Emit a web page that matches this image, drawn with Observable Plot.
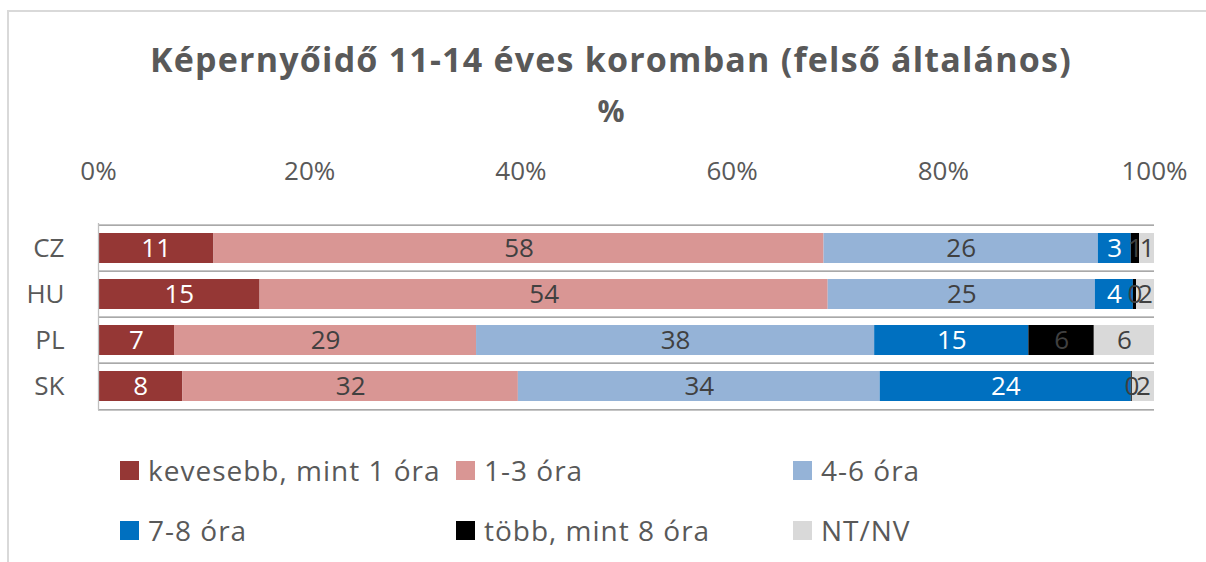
<!DOCTYPE html>
<html>
<head>
<meta charset="utf-8">
<script src="https://cdn.jsdelivr.net/npm/d3@7"></script>
<script src="https://cdn.jsdelivr.net/npm/@observablehq/plot@0.6"></script>
<style>
  html, body { margin: 0; padding: 0; background: #fff; }
  body { width: 1206px; height: 562px; position: relative; overflow: hidden; font-family: "Open Sans", sans-serif; }
  #frame { position: absolute; left: 7px; top: 10px; width: 1210px; height: 600px; border: 2px solid #d9d9d9; box-sizing: border-box; }
  #title { position: absolute; left: 0; width: 1222px; top: 37px; text-align: center; font-weight: 700; font-size: 34px; letter-spacing: 1.2px; color: #595959; line-height: 44px; }
  #sub { position: absolute; left: 0; width: 1222px; top: 91px; text-align: center; font-weight: 700; font-size: 30px; color: #595959; line-height: 40px; }
  #chart { position: absolute; left: 0; top: 140px; }
  .lg { position: absolute; display: flex; align-items: center; font-size: 28px; letter-spacing: 1px; color: #595959; white-space: nowrap; }
  .lg .sw { width: 19px; height: 19px; margin-right: 9px; }
</style>
</head>
<body>
<div id="frame"></div>
<div id="title">Képernyőidő 11-14 éves koromban (felső általános)</div>
<div id="sub">%</div>
<div id="chart"></div>
<div id="legend"></div>
<script>
const countries = ["CZ", "HU", "PL", "SK"];
const categories = ["kevesebb, mint 1 óra", "1-3 óra", "4-6 óra", "7-8 óra", "több, mint 8 óra", "NT/NV"];
const colors = ["#953735", "#d99694", "#95b3d7", "#0070c0", "#000000", "#d9d9d9"];
const labelColors = ["#ffffff", "#404040", "#404040", "#ffffff", "#404040", "#404040"];
const valuesCZ = [10.9, 57.6, 25.9, 3.1, 0.8, 1.4];
const valuesHU = [15.3, 53.8, 25.3, 3.6, 0.3, 1.7];
const valuesPL = [7.2, 28.6, 37.7, 14.6, 6.2, 5.7];
const valuesSK = [8.0, 31.8, 34.3, 23.8, 0.1, 2.1];
const xTicks = [0, 0.2, 0.4, 0.6, 0.8, 1];

const series = [valuesCZ, valuesHU, valuesPL, valuesSK];
const data = [];
countries.forEach((c, i) => categories.forEach((k, j) => data.push({country: c, category: k, value: series[i][j], idx: j})));

const width = 1206, height = 280, marginTop = 83, marginBottom = 10, marginLeft = 98, marginRight = 52;
const band = (height - marginTop - marginBottom) / countries.length;
const gridColor = "#8c8c8c";

const chart = Plot.plot({
  width, height, marginTop, marginBottom, marginLeft, marginRight,
  style: {fontFamily: "Open Sans, sans-serif", background: "transparent", overflow: "visible"},
  x: {domain: [0, 1], axis: null, label: null},
  y: {domain: countries, padding: 0, axis: null, label: null},
  color: {domain: categories, range: colors},
  marks: [
    Plot.ruleY(countries, {y: d => d, dy: -band / 2, stroke: gridColor, strokeWidth: 1.3}),
    Plot.ruleY([countries[countries.length - 1]], {y: d => d, dy: band / 2, stroke: gridColor, strokeWidth: 1.3}),
    Plot.barX(data, Plot.stackX({x: "value", y: "country", fill: "category", order: categories, offset: "normalize", insetTop: 8, insetBottom: 8})),
    Plot.ruleX([0], {stroke: "#bfbfbf", strokeWidth: 1.3}),
    Plot.text(data, Plot.stackX({x: "value", y: "country", z: "category", order: categories, offset: "normalize",
      text: d => String(Math.round(d.value)), fill: d => labelColors[d.idx], fontSize: 26, letterSpacing: 1})),
    Plot.axisX({anchor: "top", ticks: xTicks, tickFormat: d => Math.round(d * 100) + "%", tickSize: 0, tickPadding: 44, fontSize: 26, letterSpacing: 0.8, color: "#595959", label: null}),
    Plot.axisY({anchor: "left", tickSize: 0, tickPadding: 34, fontSize: 26, letterSpacing: 1.5, color: "#595959", label: null})
  ]
});
document.getElementById("chart").appendChild(chart);

const legendPos = [[120, 470], [456, 470], [793, 470], [120, 530], [456, 530], [793, 530]];
const legend = document.getElementById("legend");
categories.forEach((k, j) => {
  const el = document.createElement("div");
  el.className = "lg";
  el.style.left = legendPos[j][0] + "px";
  el.style.top = (legendPos[j][1] - 17) + "px";
  el.style.height = "34px";
  el.innerHTML = `<span class="sw" style="background:${colors[j]}"></span><span>${k}</span>`;
  legend.appendChild(el);
});
</script>
</body>
</html>
